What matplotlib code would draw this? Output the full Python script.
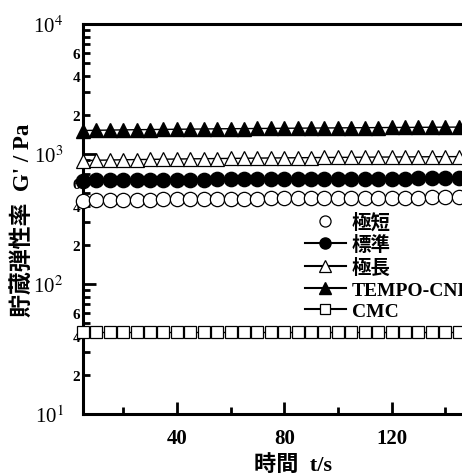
import matplotlib
matplotlib.use("Agg")
import matplotlib.pyplot as plt
from matplotlib.ticker import LogLocator, FixedLocator, FuncFormatter
from matplotlib.lines import Line2D
import math

# ---- data ----
time_s = [5, 10, 15, 20, 25, 30, 35, 40, 45, 50, 55, 60, 65, 70, 75,
          80, 85, 90, 95, 100, 105, 110, 115, 120, 125, 130, 135, 140, 145, 150]

tempo_cnf = [1516, 1522, 1528, 1533, 1538, 1542, 1546, 1550, 1554, 1558,
             1562, 1565, 1568, 1571, 1574, 1577, 1580, 1583, 1586, 1588,
             1591, 1594, 1596, 1599, 1601, 1603, 1606, 1608, 1611, 1614]
kyokuchou = [891, 895, 899, 903, 906, 909, 912, 915, 918, 920,
             923, 925, 927, 930, 932, 934, 936, 938, 940, 942,
             943, 945, 947, 948, 950, 951, 953, 954, 955, 956]
hyoujun = [624, 626, 628, 629, 631, 632, 633, 634, 635, 636,
           637, 638, 639, 640, 641, 641, 642, 643, 644, 644,
           645, 646, 646, 647, 647, 648, 648, 649, 649, 650]
kyokutan = [437, 439, 441, 443, 444, 446, 447, 448, 449, 450,
            451, 452, 453, 454, 455, 456, 456, 457, 458, 459,
            459, 460, 461, 461, 462, 462, 463, 463, 464, 464]
cmc = [43] * 30

labels = ["極短", "標準", "極長", "TEMPO-CNF", "CMC"]
x_ticks = [40, 80, 120]
x_minor = [20, 60, 100, 140]
y_major_labels = {10: "10$^{1}$", 100: "10$^{2}$", 1000: "10$^{3}$", 10000: "10$^{4}$"}

FAM = ["Liberation Serif", "Noto Sans CJK JP"]
plt.rcParams["font.family"] = FAM
plt.rcParams["mathtext.fontset"] = "stix"

fig = plt.figure(figsize=(4.62, 4.77), dpi=100)
ax = fig.add_axes([83 / 462, 1 - 415 / 477, 389 / 462, 390 / 477])

ms_c = 10.3
ms_t = 10.3
ms_s = 9.0
common = dict(color="black", lw=1.0, clip_on=False, zorder=3)
ax.plot(time_s, kyokutan, ls="none", marker="o", mfc="white", mec="black", ms=ms_c, mew=0.9, clip_on=False, zorder=3)
ax.plot(time_s, hyoujun, marker="o", mfc="black", mec="black", ms=ms_c, **common)
ax.plot(time_s, kyokuchou, marker="^", mfc="white", mec="black", ms=ms_t, mew=0.9, **common)
ax.plot(time_s, tempo_cnf, marker="^", mfc="black", mec="black", ms=ms_t, **common)
ax.plot(time_s, cmc, marker="s", mfc="white", mec="black", ms=ms_s, mew=0.9, **common)

ax.set_yscale("log")
ax.set_ylim(10, 10000)
ax.set_xlim(5, 150)

ax.xaxis.set_major_locator(FixedLocator(x_ticks))
ax.xaxis.set_minor_locator(FixedLocator(x_minor))
ax.yaxis.set_major_locator(LogLocator(base=10, numticks=10))
ax.yaxis.set_minor_locator(LogLocator(base=10, subs=[2, 3, 4, 5, 6, 7, 8, 9], numticks=20))
ax.yaxis.set_major_formatter(FuncFormatter(lambda v, p: y_major_labels.get(int(round(v)), "")))


def minor_fmt(v, p):
    m = v / 10 ** math.floor(math.log10(v) + 1e-9)
    mm = int(round(m))
    return str(mm) if mm in (2, 4, 6) else ""


ax.yaxis.set_minor_formatter(FuncFormatter(minor_fmt))

for s in ["left", "bottom", "top"]:
    ax.spines[s].set_linewidth(2.2)
ax.spines["right"].set_visible(False)

ax.tick_params(which="both", direction="in", width=2.0, top=False, right=False)
ax.tick_params(axis="x", which="major", length=9, pad=10, labelsize=15)
ax.tick_params(axis="x", which="minor", length=5)
ax.tick_params(axis="y", which="major", length=9, pad=14, labelsize=15)
ax.tick_params(axis="y", which="minor", length=5, pad=2, labelsize=11)
for t in ax.get_xticklabels():
    t.set_fontweight("bold")
for t in ax.yaxis.get_minorticklabels():
    t.set_fontweight("bold")

fig.text(293 / 462, 1 - 466 / 477, "時間  t/s", ha="center", va="center",
         fontsize=16, fontweight="bold", family=FAM)
fig.text(23 / 462, 1 - 220 / 477, "貯蔵弾性率  G' / Pa", ha="center", va="center",
         rotation=90, fontsize=16.5, fontweight="bold", family=FAM)

handles = [
    Line2D([], [], ls="none", marker="o", mfc="white", mec="black", ms=8, mew=0.9),
    Line2D([], [], color="black", lw=1.5, marker="o", mfc="black", ms=8),
    Line2D([], [], color="black", lw=1.5, marker="^", mfc="white", mec="black", ms=8, mew=0.9),
    Line2D([], [], color="black", lw=1.5, marker="^", mfc="black", ms=8),
    Line2D([], [], color="black", lw=1.5, marker="s", mfc="white", mec="black", ms=7.5, mew=0.9),
]
leg = fig.legend(handles, labels, loc="upper left", bbox_to_anchor=(305 / 462, 1 - 213 / 477),
                 frameon=False, handlelength=2.1, handletextpad=0.3, labelspacing=0.2,
                 borderpad=0, borderaxespad=0,
                 prop={"family": FAM, "weight": "bold", "size": 14})

fig.savefig("out.png", dpi=100)
